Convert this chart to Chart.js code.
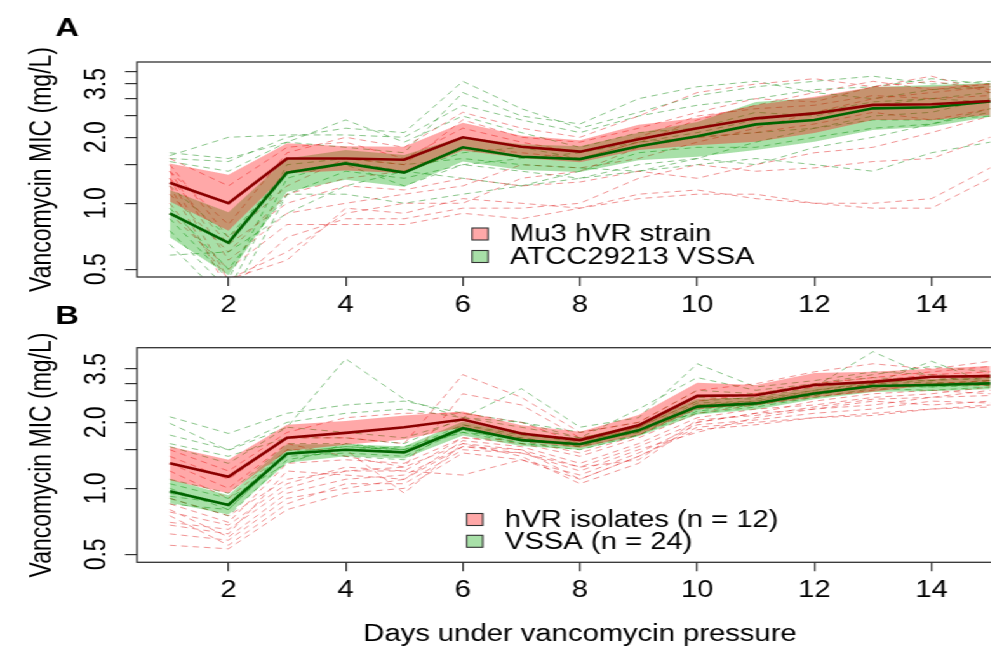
<!DOCTYPE html>
<html>
<head>
<meta charset="utf-8">
<script src="https://cdn.jsdelivr.net/npm/chart.js@4/dist/chart.umd.min.js"></script>
<style>
html,body{margin:0;padding:0;background:#fff;overflow:hidden;width:991px;height:648px;}
#wrap{position:absolute;left:0;top:0;width:830px;height:648px;transform:scaleX(1.27);transform-origin:0 0;}
#cA{position:absolute;left:0;top:0;}
#cB{position:absolute;left:0;top:300px;}
</style>
</head>
<body>
<div id="wrap">
<canvas id="cA" width="830" height="330"></canvas>
<canvas id="cB" width="830" height="348"></canvas>
</div>
<script>
// ---------- data ----------
const days = [1,2,3,4,5,6,7,8,9,10,11,12,13,14,15];
const xTicks = [2,4,6,8,10,12,14];
const yTicksA = [0.5,1,1.5,2,2.5,3,3.5,4];
const yTicksB = [0.5,1,1.5,2,2.5,3,3.5];
const yTickLabels = [0.5,1,2,3.5];

// Panel A: Mu3 hVR strain (red) vs ATCC29213 VSSA (green)
const redMeanA  = [1.24,1.00,1.60,1.60,1.58,2.00,1.81,1.72,1.96,2.20,2.44,2.57,2.81,2.83,2.93];
const redUpA    = [1.52,1.35,1.88,1.82,1.81,2.33,2.03,1.94,2.28,2.45,2.81,3.06,3.40,3.40,3.53];
const redLoA    = [1.02,0.75,1.37,1.41,1.37,1.74,1.61,1.54,1.75,1.84,1.91,2.09,2.40,2.40,2.53];
const greenMeanA= [0.90,0.66,1.38,1.52,1.38,1.80,1.63,1.59,1.82,2.02,2.29,2.40,2.71,2.74,2.91];
const greenUpA  = [1.15,0.91,1.60,1.75,1.66,2.01,1.86,1.82,2.10,2.35,2.90,3.02,3.39,3.46,3.54];
const greenLoA  = [0.70,0.47,1.13,1.28,1.19,1.55,1.42,1.39,1.57,1.63,1.75,1.91,2.16,2.24,2.48];

const redLinesA = [
  [1.30,0.45,0.55,0.95,0.90,1.05,1.00,0.95,1.10,1.15,1.05,1.00,0.95,0.95,1.30],
  [1.20,0.40,0.70,0.85,0.85,0.95,0.95,1.00,1.30,1.50,1.40,1.45,1.55,1.60,2.00],
  [1.40,0.55,0.90,1.00,1.10,1.20,1.50,1.45,1.60,1.90,2.20,2.60,3.00,3.20,3.40],
  [1.10,0.60,1.10,1.30,1.40,1.80,1.70,1.60,1.90,2.40,2.80,3.20,3.60,3.30,3.50],
  [1.50,0.70,1.20,1.60,1.50,2.40,2.00,1.90,2.20,2.60,3.00,2.90,3.40,3.80,3.20],
  [0.90,0.50,0.80,0.80,0.80,0.90,0.85,0.95,1.05,1.10,1.10,1.00,1.00,1.05,1.45],
  [1.60,1.20,1.80,1.90,1.60,2.20,1.90,1.70,2.00,2.50,2.70,2.80,3.10,3.00,3.10],
  [1.30,0.65,1.00,1.20,1.15,1.30,1.20,1.25,1.40,1.30,1.50,1.70,1.80,2.10,2.50],
  [1.00,0.45,0.60,0.90,1.00,1.00,1.30,1.40,1.80,2.00,2.10,2.30,2.60,2.40,2.70],
  [1.40,0.80,1.70,2.00,1.80,2.60,2.20,2.00,2.50,3.20,3.50,3.70,3.40,3.60,3.30]
];
const greenLinesA = [
  [1.60,1.55,2.00,2.20,2.10,3.60,2.70,2.20,2.60,3.10,3.40,3.60,3.80,3.50,3.60],
  [1.65,2.00,2.05,2.05,2.00,2.80,2.40,2.10,2.50,2.80,3.00,3.30,3.40,3.70,3.50],
  [1.55,1.40,1.90,1.80,1.70,3.20,2.50,2.30,3.00,3.40,3.60,3.20,3.00,3.30,3.40],
  [0.75,0.40,1.30,1.55,1.40,1.70,1.80,1.60,1.90,2.10,2.40,2.60,2.90,3.00,3.20],
  [0.65,0.35,1.10,1.40,1.30,1.50,1.40,1.30,1.50,1.60,1.90,2.20,2.50,2.60,3.00],
  [0.58,0.60,0.90,1.20,1.40,1.30,1.20,1.30,1.40,1.50,1.60,1.50,1.40,1.70,1.90],
  [1.70,1.60,1.90,2.40,1.90,2.50,2.10,1.80,2.10,2.20,2.60,2.50,2.80,3.00,2.90],
  [0.85,0.45,1.50,1.60,1.50,1.60,1.50,1.45,1.40,1.60,1.50,1.80,2.00,2.30,2.60],
  [1.20,0.70,1.40,1.50,1.20,1.50,1.60,1.70,1.90,2.00,2.10,2.20,2.40,2.40,2.50],
  [0.95,0.50,1.10,1.10,1.00,1.10,1.20,1.40,1.70,1.80,1.80,2.00,2.20,2.30,2.70]
];

// Panel B: hVR isolates (red) vs VSSA (green)
const redMeanB  = [1.30,1.13,1.70,1.79,1.90,2.06,1.78,1.66,1.94,2.64,2.66,2.96,3.06,3.23,3.25];
const redUpB    = [1.55,1.35,1.95,2.03,2.15,2.24,1.94,1.81,2.16,3.03,2.96,3.36,3.40,3.51,3.61];
const redLoB    = [1.09,0.95,1.48,1.58,1.67,1.90,1.64,1.53,1.75,2.31,2.40,2.61,2.76,2.97,2.93];
const greenMeanB= [0.97,0.84,1.44,1.50,1.46,1.88,1.66,1.59,1.84,2.36,2.44,2.71,2.93,2.96,3.01];
const greenUpB  = [1.10,0.93,1.59,1.59,1.55,2.02,1.77,1.70,1.96,2.56,2.60,2.89,3.12,3.15,3.21];
const greenLoB  = [0.86,0.76,1.31,1.40,1.37,1.74,1.56,1.50,1.73,2.17,2.29,2.55,2.75,2.78,2.83];

const redLinesB = [
  [0.80,0.60,0.95,1.10,1.15,1.55,1.50,1.10,1.40,1.90,2.00,2.10,2.20,2.30,2.40],
  [0.75,0.55,0.85,1.05,1.05,1.50,1.45,1.20,1.50,1.80,2.10,2.30,2.50,2.40,2.50],
  [0.70,0.65,1.00,1.20,1.25,1.60,1.40,1.05,1.30,2.00,2.20,2.50,2.70,2.80,2.70],
  [0.62,0.58,0.90,1.00,1.10,1.65,1.55,1.30,1.60,2.10,2.30,2.40,2.60,2.70,2.90],
  [0.55,0.53,0.80,0.95,1.00,1.45,1.35,1.15,1.45,1.95,2.05,2.20,2.30,2.50,2.45],
  [0.85,0.70,1.30,1.35,1.30,1.70,1.60,1.40,1.70,2.20,2.40,2.60,2.80,3.00,3.10],
  [1.20,0.90,1.50,1.50,0.95,1.60,1.50,1.25,1.55,2.00,2.20,2.30,2.40,2.60,2.80],
  [1.40,1.10,1.70,1.70,1.60,3.30,2.60,1.80,2.00,2.80,3.00,3.40,3.70,3.50,3.80],
  [1.30,1.00,1.60,1.40,1.25,2.70,2.40,1.70,1.90,2.50,2.70,3.00,3.20,3.40,3.60],
  [0.90,0.75,1.10,1.20,1.20,1.15,1.35,1.10,1.40,1.85,1.95,2.10,2.15,2.30,2.35],
  [0.78,0.68,1.05,1.25,1.20,1.70,1.65,1.45,1.75,2.30,2.45,2.70,3.00,3.20,3.30],
  [1.50,1.20,1.80,2.10,2.20,2.20,2.00,1.60,1.90,2.60,2.70,2.90,3.10,3.30,3.40],
  [0.68,0.62,1.20,1.15,1.10,1.55,1.45,1.25,1.35,2.05,2.15,2.35,2.55,2.60,2.65]
];
const greenLinesB = [
  [2.12,1.78,2.20,2.40,2.50,2.20,2.00,1.80,2.00,2.80,2.70,3.00,3.20,3.10,3.30],
  [1.98,1.49,1.90,3.90,2.55,2.10,2.85,1.90,2.10,3.70,2.90,3.10,3.40,3.30,3.20],
  [1.75,1.50,2.00,2.20,2.30,2.10,1.90,1.70,1.90,2.50,2.60,2.90,4.20,3.20,3.10],
  [1.55,1.30,1.90,1.80,1.70,2.05,1.80,1.60,1.95,2.60,2.55,2.80,3.00,3.80,3.00],
  [1.10,0.95,1.60,1.60,1.50,1.95,1.70,1.55,1.85,2.40,2.50,2.75,2.95,3.00,3.10],
  [1.00,0.80,1.45,1.55,1.50,1.90,1.65,1.60,1.80,2.30,2.40,2.70,2.90,2.90,3.00],
  [0.95,0.85,1.40,1.45,1.40,1.85,1.60,1.50,1.75,2.35,2.45,2.65,3.00,3.05,2.95],
  [0.90,0.75,1.35,1.50,1.55,1.80,1.70,1.55,1.90,2.20,2.35,2.60,2.85,2.80,2.90],
  [0.92,0.85,1.50,1.40,1.35,1.95,1.75,1.65,1.85,2.45,2.50,2.80,3.05,3.10,3.20],
  [1.05,0.90,1.30,1.60,1.45,1.90,1.65,1.60,1.80,2.40,2.45,2.75,2.90,3.00,3.05],
  [0.85,0.80,1.45,1.55,1.50,1.80,1.60,1.55,1.75,2.25,2.40,2.65,2.95,2.90,2.95],
  [1.60,1.40,1.70,1.70,1.60,2.10,2.00,1.70,2.30,3.20,2.80,3.00,3.30,3.60,3.40]
];

// ---------- styling ----------
const FONT = "'Liberation Sans', Arial, Helvetica, sans-serif";
const RED_DASH = 'rgba(225,40,40,0.5)';
const GREEN_DASH = 'rgba(20,140,20,0.5)';
const RED_BAND = 'rgba(255,0,0,0.34)';
const GREEN_BAND = 'rgba(0,165,0,0.34)';
const RED_MEAN = '#8b0000';
const GREEN_MEAN = '#006400';
const AXIS_COL = '#333';

function pts(vals){ return days.map((d,i)=>({x:d, y:vals[i]})); }

function buildDatasets(redLines, greenLines, gUp, gLo, rUp, rLo, gMean, rMean){
  const ds = [];
  redLines.forEach(v=>ds.push({data:pts(v), borderColor:RED_DASH, borderWidth:1, borderDash:[5,4], pointRadius:0, fill:false, order:6}));
  greenLines.forEach(v=>ds.push({data:pts(v), borderColor:GREEN_DASH, borderWidth:1, borderDash:[5,4], pointRadius:0, fill:false, order:6}));
  ds.push({data:pts(gLo), borderWidth:0, borderColor:'rgba(0,0,0,0)', pointRadius:0, fill:false, order:4});
  ds.push({data:pts(gUp), borderWidth:0, borderColor:'rgba(0,0,0,0)', backgroundColor:GREEN_BAND, pointRadius:0, fill:'-1', order:4});
  ds.push({data:pts(rLo), borderWidth:0, borderColor:'rgba(0,0,0,0)', pointRadius:0, fill:false, order:3});
  ds.push({data:pts(rUp), borderWidth:0, borderColor:'rgba(0,0,0,0)', backgroundColor:RED_BAND, pointRadius:0, fill:'-1', order:3});
  ds.push({data:pts(gMean), borderColor:GREEN_MEAN, borderWidth:2.6, pointRadius:0, fill:false, order:2});
  ds.push({data:pts(rMean), borderColor:RED_MEAN, borderWidth:2.6, pointRadius:0, fill:false, order:1});
  return ds;
}

function decoPlugin(p){
  return {
    id:'deco'+p.label,
    afterDraw(chart){
      const ctx = chart.ctx, a = chart.chartArea, ys = chart.scales.y;
      ctx.save();
      // box
      ctx.strokeStyle = AXIS_COL; ctx.lineWidth = 1.3;
      ctx.strokeRect(a.left, a.top, a.right - a.left, a.bottom - a.top);
      // rotated y tick labels
      ctx.fillStyle = '#000';
      ctx.font = '23px ' + FONT;
      ctx.textAlign = 'center'; ctx.textBaseline = 'middle';
      yTickLabels.forEach(v=>{
        const y = ys.getPixelForValue(v);
        ctx.save(); ctx.translate(76.4, y); ctx.rotate(-Math.PI/2);
        ctx.fillText(v.toFixed(1), 0, 0); ctx.restore();
      });
      // panel label
      ctx.font = 'bold 26px ' + FONT;
      ctx.fillText(p.label, 53, p.labelY);
      // legend
      ctx.font = '23px ' + FONT;
      ctx.textAlign = 'left';
      p.legend.forEach((it,i)=>{
        const by = p.legY + i*p.legGap;
        ctx.fillStyle = '#fff';
        ctx.fillRect(p.legX, by - 6, 12.6, 12);
        ctx.fillStyle = it.color;
        ctx.fillRect(p.legX, by - 6, 12.6, 12);
        ctx.strokeStyle = AXIS_COL; ctx.lineWidth = 1.1;
        ctx.strokeRect(p.legX, by - 6, 12.6, 12);
        ctx.fillStyle = '#000';
        ctx.fillText(it.text, p.textX, by + 1);
      });
      ctx.restore();
    }
  };
}

function makeChart(id, p){
  return new Chart(document.getElementById(id), {
    type:'line',
    data:{datasets: p.datasets},
    options:{
      responsive:false, animation:false, devicePixelRatio:1,
      layout:{padding:{left:0, right:24.5, top:p.padTop, bottom:0}},
      plugins:{legend:{display:false}, tooltip:{enabled:false}},
      elements:{line:{tension:0}},
      scales:{
        x:{
          type:'linear', min:0.44, max:15.56,
          afterBuildTicks:s=>{ s.ticks = xTicks.map(v=>({value:v})); },
          afterFit:s=>{ s.height = p.xAxisH; },
          ticks:{autoSkip:false, maxRotation:0, minRotation:0, color:'#000', padding:6,
                 font:{family:FONT, size:23}, callback:v=>String(v)},
          grid:{display:true, drawOnChartArea:false, drawTicks:true, tickLength:9, color:AXIS_COL, lineWidth:1.2},
          border:{display:false},
          title:{display:p.xTitle, text:'Days under vancomycin pressure', color:'#000',
                 font:{family:FONT, size:23}, padding:{top:0, bottom:0}}
        },
        y:{
          type:'logarithmic', min:p.yMin, max:p.yMax, position:'left',
          afterBuildTicks:s=>{ s.ticks = p.yTicks.map(v=>({value:v})); },
          afterFit:s=>{ s.width = 107.9; },
          ticks:{display:false},
          grid:{display:true, drawOnChartArea:false, drawTicks:true, tickLength:9.4, color:AXIS_COL, lineWidth:1.2},
          border:{display:false},
          title:{display:true, text:'Vancomycin MIC (mg/L)', color:'#000',
                 font:{family:FONT, size:23}, padding:{top:20.1, bottom:0}}
        }
      }
    },
    plugins:[decoPlugin(p)]
  });
}

makeChart('cA', {
  datasets: buildDatasets(redLinesA, greenLinesA, greenUpA, greenLoA, redUpA, redLoA, greenMeanA, redMeanA),
  padTop:62, xAxisH:53, yMin:0.461, yMax:4.41, yTicks:yTicksA, xTitle:false,
  label:'A', labelY:29,
  legX:371.7, textX:401.6, legY:234, legGap:22.5,
  legend:[{color:RED_BAND, text:'Mu3 hVR strain'},{color:GREEN_BAND, text:'ATCC29213 VSSA'}]
});
makeChart('cB', {
  datasets: buildDatasets(redLinesB, greenLinesB, greenUpB, greenLoB, redUpB, redLoB, greenMeanB, redMeanB),
  padTop:47.7, xAxisH:85.7, yMin:0.46, yMax:4.38, yTicks:yTicksB, xTitle:true,
  label:'B', labelY:17,
  legX:367.5, textX:397.6, legY:219.5, legGap:21.8,
  legend:[{color:RED_BAND, text:'hVR isolates (n = 12)'},{color:GREEN_BAND, text:'VSSA (n = 24)'}]
});
</script>
</body>
</html>
